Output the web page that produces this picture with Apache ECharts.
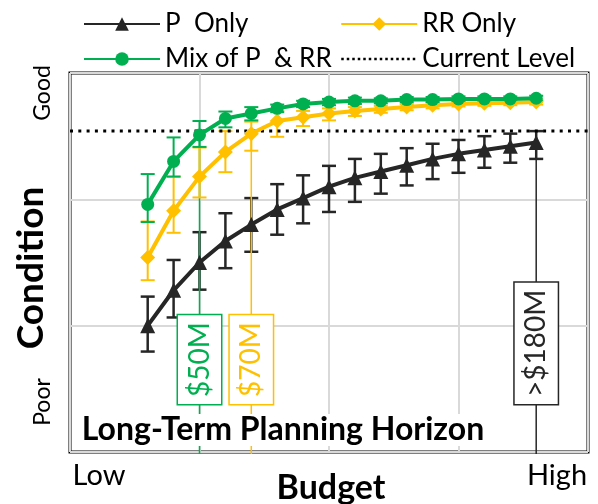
<!DOCTYPE html>
<html><head><meta charset="utf-8">
<script src="https://cdn.jsdelivr.net/npm/echarts@6/dist/echarts.min.js"></script>
<style>html,body{margin:0;padding:0;background:#fff}#c{width:598px;height:504px}</style>
</head><body><div id="c"></div>
<script>
// ---- data ----
const budgets = [30, 40, 50, 60, 70, 80, 90, 100, 110, 120, 130, 140, 150, 160, 170, 180];
const pOnly        = [100, 128, 150, 167, 180, 192, 201, 210, 217, 222, 227, 232, 236, 239, 242, 245];
const pOnlyErrUp   = [23, 24, 24, 22, 21, 20, 18, 16.5, 15, 14, 13.5, 12, 11, 11, 10, 9];
const pOnlyErrDown = [20.5, 21.5, 21.5, 21.5, 21.5, 20, 20, 20, 19, 17.5, 16, 16, 15, 14, 13, 13];
const rrOnly        = [154, 191, 218, 237.5, 252, 262, 265, 268, 270, 271.5, 273, 274.5, 275.5, 276, 276.5, 277];
const rrOnlyErrUp   = [28.5, 27, 23, 16.5, 9.5, 8, 5, 4, 3, 2.5, 2.5, 2, 2, 2, 2, 2];
const rrOnlyErrDown = [18, 17.5, 16.5, 16, 13.5, 12.5, 7, 5.5, 4, 3, 2.5, 2.5, 2, 2, 2, 2];
const mix        = [196, 230, 251, 264, 268, 272, 275.5, 277, 278, 278, 279, 279, 279.5, 279.5, 279.5, 280];
const mixErrUp   = [24, 19, 11, 5.5, 5, 3, 2.5, 2.5, 2.5, 2, 2, 2, 2, 2, 2, 2];
const mixErrDown = [14, 12, 9.5, 7, 5.5, 3, 2.5, 2.5, 2.5, 2, 2, 2, 2, 2, 2, 2];
const currentLevel = 254;
const thresholdBudgets = [50, 70, 180];
const thresholdLabels = ['$50M', '$70M', '>$180M'];
const seriesNames = ['P  Only', 'RR Only', 'Mix of P  & RR', 'Current Level'];
const xEndLabels = ['Low', 'High'];
const yEndLabels = ['Poor', 'Good'];
const xAxisTitle = 'Budget';
const yAxisTitle = 'Condition';
const panelTitle = 'Long-Term Planning Horizon';

// ---- styles ----
const BLACK = '#262626', GREEN = '#00B050', YELLOW = '#FFC000';
const FONT = 'Lato';

function errSeries(name, vals, up, down, color, lw) {
  return {
    type: 'custom', name: name, silent: true,
    data: budgets.map((b, i) => [b, vals[i], up[i], down[i]]),
    encode: { x: 0, y: 1 },
    renderItem: function (params, api) {
      const x = api.value(0), y = api.value(1);
      const top = api.coord([x, y + api.value(2)]);
      const bot = api.coord([x, y - api.value(3)]);
      const hw = 7;
      const st = { stroke: color, lineWidth: lw };
      return { type: 'group', children: [
        { type: 'line', shape: { x1: top[0], y1: top[1], x2: bot[0], y2: bot[1] }, style: st },
        { type: 'line', shape: { x1: top[0] - hw, y1: top[1], x2: top[0] + hw, y2: top[1] }, style: st },
        { type: 'line', shape: { x1: bot[0] - hw, y1: bot[1], x2: bot[0] + hw, y2: bot[1] }, style: st }
      ]};
    }
  };
}

function lineSeries(name, vals, color, symbol, size) {
  return {
    type: 'line', name: name, data: budgets.map((b, i) => [b, vals[i]]),
    symbol: symbol, symbolSize: size, showAllSymbol: true,
    lineStyle: { color: color, width: 4 },
    itemStyle: { color: color },
    silent: true
  };
}

const thresholdSources = [mix, rrOnly, pOnly];
const thresholdColors = [GREEN, YELLOW, BLACK];
const BOX_BOTTOM = 38;

const annotationSeries = {
  type: 'custom', name: 'thresholds', silent: true,
  data: thresholdBudgets.map((b, i) => [b, thresholdSources[i][budgets.indexOf(b)], i]),
  encode: { x: 0, y: 1 },
  renderItem: function (params, api) {
    const x = api.value(0), y = api.value(1), k = api.value(2);
    const c = thresholdColors[k];
    const p = api.coord([x, y]);
    const p0 = api.coord([x, 0]);
    const pb = api.coord([x, BOX_BOTTOM]);
    return { type: 'group', children: [
      { type: 'line', shape: { x1: p[0], y1: p[1], x2: p0[0], y2: p0[1] + 2 }, style: { stroke: c, lineWidth: 1.5 } },
      { type: 'text', x: pb[0], y: pb[1], rotation: Math.PI / 2, z2: 10,
        style: { text: thresholdLabels[k], fill: c, font: '28px ' + FONT, lineHeight: 28,
                 align: 'left', verticalAlign: 'middle', backgroundColor: '#fff',
                 borderColor: c, borderWidth: 1.5, padding: [7.5, 7] } }
    ]};
  }
};

const currentSeries = {
  type: 'line', name: seriesNames[3], data: [[0, currentLevel], [200, currentLevel]],
  symbol: 'none', lineStyle: { color: '#000', width: 3, type: [3, 5.3] }, itemStyle: { color: '#000' }, silent: true
};

const legendText = { fontFamily: FONT, fontSize: 26, color: '#000', lineHeight: 26 };
const chart = echarts.init(document.getElementById('c'), null, { renderer: 'canvas' });
chart.setOption({
  animation: false,
  grid: { left: 70, top: 73, right: 10, bottom: 52, show: true, borderColor: '#000', borderWidth: 3, backgroundColor: 'transparent' },
  xAxis: { type: 'value', min: 0, max: 200, interval: 50,
    axisLabel: { show: false }, axisTick: { show: false }, axisLine: { show: false },
    splitLine: { lineStyle: { color: '#D9D9D9', width: 2 } } },
  yAxis: { type: 'value', min: 0, max: 300, interval: 100,
    axisLabel: { show: false }, axisTick: { show: false }, axisLine: { show: false },
    splitLine: { lineStyle: { color: '#D9D9D9', width: 2 } } },
  legend: [
    { data: [seriesNames[0], seriesNames[2]], orient: 'vertical', left: 83, top: 11, padding: 0,
      itemWidth: 76, itemHeight: 17, itemGap: 9, textStyle: legendText },
    { data: [seriesNames[1], { name: seriesNames[3], itemStyle: { color: 'rgba(0,0,0,0)', borderWidth: 0 }, lineStyle: { width: 2.5, type: [2.5, 3] } }],
      orient: 'vertical', left: 340, top: 11, padding: 0,
      itemWidth: 76, itemHeight: 17, itemGap: 9, textStyle: legendText }
  ],
  graphic: [
    { type: 'text', x: 99, y: 476, style: { text: xEndLabels[0], font: '29px ' + FONT, fill: '#000', align: 'center', verticalAlign: 'middle' } },
    { type: 'text', x: 557, y: 476, style: { text: xEndLabels[1], font: '29px ' + FONT, fill: '#000', align: 'center', verticalAlign: 'middle' } },
    { type: 'text', x: 43, y: 93, rotation: Math.PI / 2, style: { text: yEndLabels[1], font: '23px ' + FONT, fill: '#000', align: 'center', verticalAlign: 'middle' } },
    { type: 'text', x: 43, y: 402, rotation: Math.PI / 2, style: { text: yEndLabels[0], font: '23px ' + FONT, fill: '#000', align: 'center', verticalAlign: 'middle' } },
    { type: 'text', x: 31, y: 268, rotation: Math.PI / 2, style: { text: yAxisTitle, font: 'bold 37px ' + FONT, fill: '#000', align: 'center', verticalAlign: 'middle' } },
    { type: 'text', x: 331, y: 488, style: { text: xAxisTitle, font: 'bold 34px ' + FONT, fill: '#000', align: 'center', verticalAlign: 'middle' } },
    { type: 'text', x: 283, y: 430, z: 50, style: { text: panelTitle, font: 'bold 32px ' + FONT, fill: '#000', align: 'center', verticalAlign: 'middle', backgroundColor: '#fff', padding: [0, 2] } }
  ],
  series: [
    currentSeries,
    errSeries('pErr', pOnly, pOnlyErrUp, pOnlyErrDown, BLACK, 2.5),
    lineSeries(seriesNames[0], pOnly, BLACK, 'triangle', 15),
    annotationSeries,
    errSeries('rrErr', rrOnly, rrOnlyErrUp, rrOnlyErrDown, YELLOW, 2),
    lineSeries(seriesNames[1], rrOnly, YELLOW, 'diamond', 15),
    errSeries('mixErr', mix, mixErrUp, mixErrDown, GREEN, 2),
    lineSeries(seriesNames[2], mix, GREEN, 'circle', 13)
  ]
});
</script></body></html>
